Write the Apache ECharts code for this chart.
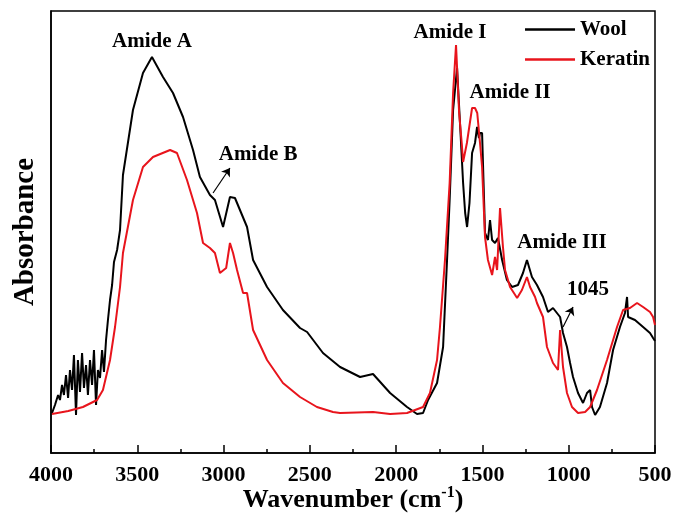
<!DOCTYPE html>
<html lang="en">
<head>
    <meta charset="UTF-8">
    <title>FTIR</title>
    <script src="https://cdn.jsdelivr.net/npm/echarts@6/dist/echarts.min.js"></script>
    <style>
        html, body { margin: 0; padding: 0; background: #fff; }
        #chart { width: 676px; height: 527px; }
    </style>
</head>
<body>
<div id="chart"></div>
<script type="text/javascript">
    // wavenumber (cm-1) and absorbance (arbitrary units)
    var woolWavenumber = [3994, 3977, 3959, 3948, 3936, 3925, 3913, 3901, 3890, 3878, 3867, 3855, 3844, 3832, 3820, 3809, 3797, 3786, 3774, 3762, 3751, 3739, 3728, 3716, 3704, 3693, 3681, 3670, 3658, 3646, 3635, 3617, 3600, 3583, 3525, 3467, 3415, 3351, 3293, 3235, 3177, 3137, 3079, 3050, 3003, 2963, 2934, 2864, 2829, 2748, 2656, 2557, 2516, 2424, 2325, 2209, 2134, 2035, 1937, 1879, 1844, 1815, 1763, 1728, 1705, 1690, 1670, 1647, 1630, 1612, 1600, 1589, 1575, 1560, 1543, 1531, 1520, 1514, 1502, 1490, 1485, 1468, 1456, 1444, 1427, 1410, 1386, 1358, 1328, 1294, 1265, 1242, 1213, 1184, 1149, 1120, 1091, 1050, 1033, 1010, 992, 975, 946, 917, 894, 876, 865, 847, 819, 778, 743, 703, 674, 662, 656, 616, 569, 529, 511, 500];
    var woolAbsorbance = [40, 48, 58, 53, 68, 58, 78, 55, 83, 63, 98, 38, 93, 61, 100, 65, 88, 58, 93, 68, 103, 48, 83, 75, 103, 81, 113, 133, 153, 168, 191, 203, 223, 278, 343, 380, 396, 376, 360, 336, 303, 276, 258, 253, 226, 256, 255, 226, 193, 166, 143, 125, 121, 100, 86, 76, 79, 60, 46, 39, 40, 53, 70, 106, 193, 253, 343, 385, 330, 270, 240, 226, 250, 300, 310, 326, 315, 320, 320, 250, 220, 213, 233, 213, 210, 215, 193, 173, 166, 168, 180, 193, 176, 168, 156, 141, 145, 136, 120, 106, 90, 76, 60, 50, 60, 63, 46, 38, 46, 70, 103, 126, 140, 156, 136, 133, 126, 120, 115, 112];

    var keratinWavenumber = [3994, 3900, 3815, 3733, 3699, 3658, 3629, 3600, 3583, 3525, 3467, 3409, 3310, 3270, 3212, 3154, 3119, 3079, 3050, 3021, 2985, 2963, 2945, 2922, 2887, 2864, 2829, 2748, 2656, 2557, 2459, 2366, 2325, 2134, 2035, 1937, 1844, 1804, 1763, 1746, 1717, 1690, 1670, 1653, 1635, 1620, 1612, 1590, 1560, 1543, 1530, 1514, 1502, 1485, 1468, 1444, 1427, 1415, 1398, 1381, 1369, 1340, 1299, 1271, 1242, 1224, 1195, 1184, 1149, 1126, 1091, 1062, 1050, 1039, 1033, 1010, 981, 946, 905, 876, 836, 778, 720, 685, 645, 604, 569, 529, 511, 500];
    var keratinAbsorbance = [39, 42, 46, 53, 63, 93, 126, 166, 200, 253, 286, 296, 303, 300, 273, 240, 210, 205, 200, 180, 185, 210, 200, 183, 160, 160, 123, 93, 70, 56, 46, 41, 40, 41, 39, 40, 46, 60, 93, 126, 193, 270, 360, 408, 340, 310, 291, 310, 345, 345, 340, 310, 286, 216, 193, 178, 196, 183, 245, 206, 183, 166, 155, 163, 176, 166, 156, 150, 136, 106, 90, 83, 123, 125, 86, 60, 46, 40, 41, 46, 63, 93, 126, 143, 145, 150, 146, 141, 136, 128];

    var xTicks = [4000, 3500, 3000, 2500, 2000, 1500, 1000, 500];

    // band labels and arrows
    var bandText = ['Amide A', 'Amide B', 'Amide I', 'Amide II', 'Amide III', '1045'];
    var bandWavenumber = [3415, 2800, 1688, 1340, 1039, 888];
    var bandAbsorbance = [411, 298, 420, 360, 210, 163];
    var arrowFrom = [[3061, 260], [1033, 126]];
    var arrowTo = [[2963, 285], [975, 146]];

    function zip(xs, ys) {
        var out = [];
        for (var i = 0; i < xs.length; i++) out.push([xs[i], ys[i]]);
        return out;
    }

    var serif = 'Liberation Serif';
    var labels = [];
    for (var i = 0; i < bandText.length; i++) {
        labels.push({ coord: [bandWavenumber[i], bandAbsorbance[i]], value: bandText[i] });
    }
    var arrows = [];
    for (var j = 0; j < arrowFrom.length; j++) {
        arrows.push([{ coord: arrowFrom[j] }, { coord: arrowTo[j] }]);
    }

    var myChart = echarts.init(document.getElementById('chart'));
    var option = {
        animation: false,
        backgroundColor: '#fff',
        grid: {
            left: 51, right: 21, top: 11, bottom: 74,
            outerBoundsMode: 'none',
            show: true, borderColor: '#000', borderWidth: 1.5
        },
        legend: {
            data: ['Wool', 'Keratin'],
            orient: 'vertical',
            right: 21,
            top: 14,
            icon: 'rect',
            itemWidth: 50,
            itemHeight: 2.5,
            itemGap: 9,
            textStyle: { fontFamily: serif, fontWeight: 'bold', fontSize: 21, color: '#000' }
        },
        xAxis: {
            type: 'value',
            inverse: true,
            min: 500,
            max: 4000,
            interval: 500,
            name: 'Wavenumber (cm{sup|-1})',
            nameLocation: 'middle',
            nameGap: 32,
            nameMoveOverlap: false,
            nameTextStyle: {
                fontFamily: serif, fontWeight: 'bold', fontSize: 26, color: '#000',
                rich: { sup: { fontFamily: serif, fontWeight: 'bold', fontSize: 16, verticalAlign: 'top', padding: [0, 0, 14, 0] } }
            },
            axisLine: { show: true, lineStyle: { color: '#000', width: 1.5 } },
            axisTick: { inside: true, length: 8, lineStyle: { color: '#000', width: 1.5 } },
            minorTick: { show: true, splitNumber: 2, length: 4, lineStyle: { color: '#000', width: 1.5 } },
            splitLine: { show: false },
            axisLabel: {
                margin: 11,
                fontFamily: serif, fontWeight: 'bold', fontSize: 22, color: '#000',
                formatter: function (v) { return xTicks.indexOf(v) >= 0 ? String(v) : ''; }
            }
        },
        yAxis: {
            type: 'value',
            min: 0,
            max: 442,
            name: 'Absorbance',
            nameLocation: 'middle',
            nameGap: 11,
            nameTextStyle: { fontFamily: serif, fontWeight: 'bold', fontSize: 29, color: '#000' },
            axisLine: { show: true, lineStyle: { color: '#000', width: 1.5 } },
            axisTick: { show: false },
            axisLabel: { show: false },
            splitLine: { show: false }
        },
        series: [
            {
                name: 'Wool',
                type: 'line',
                symbol: 'none',
                lineStyle: { color: '#000', width: 2 },
                itemStyle: { color: '#000' },
                data: zip(woolWavenumber, woolAbsorbance),
                markPoint: {
                    symbol: 'circle',
                    symbolSize: 0,
                    label: {
                        show: true, position: 'inside',
                        fontFamily: serif, fontWeight: 'bold', fontSize: 21, color: '#000',
                        formatter: function (p) { return p.value; }
                    },
                    data: labels
                },
                markLine: {
                    silent: true,
                    symbol: ['none', 'arrow'],
                    symbolSize: 8,
                    label: { show: false },
                    lineStyle: { color: '#000', width: 1.2, type: 'solid' },
                    data: arrows
                }
            },
            {
                name: 'Keratin',
                type: 'line',
                symbol: 'none',
                lineStyle: { color: '#e8141c', width: 2 },
                itemStyle: { color: '#e8141c' },
                data: zip(keratinWavenumber, keratinAbsorbance)
            }
        ]
    };
    myChart.setOption(option);
</script>
</body>
</html>
